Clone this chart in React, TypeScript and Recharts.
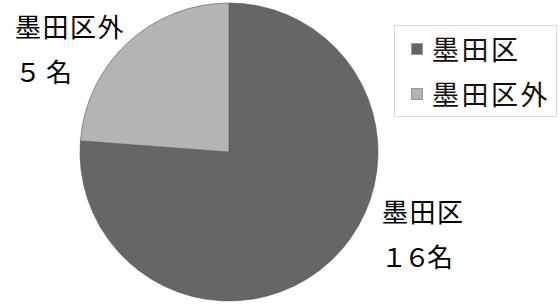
import { PieChart, Pie, Cell, Legend } from 'recharts'

const categories = ['墨田区', '墨田区外']
const counts = [16, 5]
const countLabels = ['１６名', '５名']
const colors = ['#666666', '#b4b4b4']

const data = categories.map((name, i) => ({ name, value: counts[i], countLabel: countLabels[i] }))

const FONT = '"Noto Sans CJK JP", "Noto Sans", sans-serif'

// label placement per slice, relative to pie center
const labelOffsets = [
  { dx: 153, dy: 58, countDx: -1, countSpacing: -3 },
  { dx: -214, dy: -127, countDx: 0, countSpacing: 5 },
]

const renderLabel = (props: any) => {
  const { cx, cy, index, name, payload } = props
  const off = labelOffsets[index]
  const x = cx + off.dx
  const y = cy + off.dy
  return (
    <g>
      <text x={x} y={y} fill="#000" fontSize={26} fontFamily={FONT} letterSpacing={1.5} dominantBaseline="central">
        {name}
      </text>
      <text
        x={x + off.countDx}
        y={y + 45}
        fill="#000"
        fontSize={26}
        fontFamily={FONT}
        letterSpacing={off.countSpacing}
        dominantBaseline="central"
      >
        {payload.countLabel}
      </text>
    </g>
  )
}

const renderLegend = (props: any) => {
  const { payload } = props
  return (
    <div
      style={{
        border: '1px solid #d9d9d9',
        padding: '0 0 0 16px',
        width: 145,
        fontFamily: FONT,
      }}
    >
      {payload.map((entry: any, i: number) => (
        <div key={i} style={{ display: 'flex', alignItems: 'center', height: 45 }}>
          <span
            style={{
              display: 'inline-block',
              width: 12,
              height: 12,
              background: colors[i],
              border: '1px solid #999',
              boxSizing: 'border-box',
              marginRight: 9,
            }}
          />
          <span style={{ fontSize: 27, letterSpacing: 2.5, color: '#111', lineHeight: '45px' }}>{entry.value}</span>
        </div>
      ))}
    </div>
  )
}

export default function App() {
  return (
    <div style={{ position: 'absolute', left: 0, top: 0, width: 560, height: 307, background: '#fff' }}>
      <PieChart width={560} height={307} margin={{ top: 0, right: 0, bottom: 0, left: 0 }}>
        <Pie
          data={data}
          dataKey="value"
          nameKey="name"
          cx={229}
          cy={152}
          outerRadius={149}
          startAngle={90}
          endAngle={-270}
          stroke="#555"
          strokeWidth={0.6}
          label={renderLabel}
          labelLine={false}
          isAnimationActive={false}
        >
          {data.map((d, i) => (
            <Cell key={d.name} fill={colors[i]} />
          ))}
        </Pie>
        <Legend
          layout="vertical"
          verticalAlign="top"
          align="right"
          content={renderLegend}
          wrapperStyle={{ top: 25, left: 394, width: 163 }}
        />
      </PieChart>
    </div>
  )
}
